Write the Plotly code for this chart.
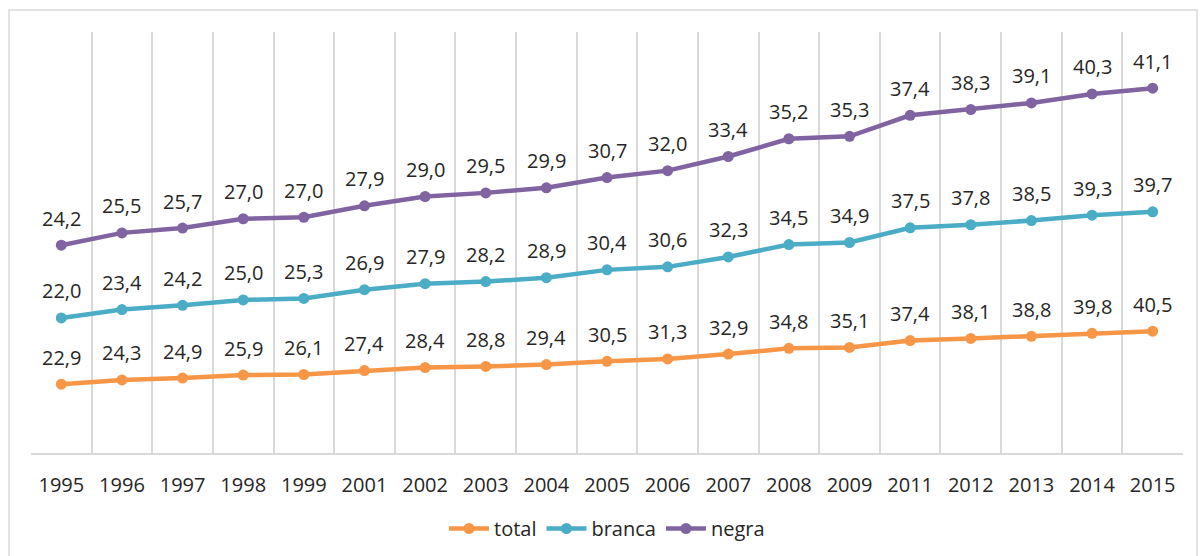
import plotly.graph_objects as go

years = ["1995", "1996", "1997", "1998", "1999", "2001", "2002", "2003", "2004", "2005",
         "2006", "2007", "2008", "2009", "2011", "2012", "2013", "2014", "2015"]
total = [22.9, 24.3, 24.9, 25.9, 26.1, 27.4, 28.4, 28.8, 29.4, 30.5,
         31.3, 32.9, 34.8, 35.1, 37.4, 38.1, 38.8, 39.8, 40.5]
branca = [22.0, 23.4, 24.2, 25.0, 25.3, 26.9, 27.9, 28.2, 28.9, 30.4,
          30.6, 32.3, 34.5, 34.9, 37.5, 37.8, 38.5, 39.3, 39.7]
negra = [24.2, 25.5, 25.7, 27.0, 27.0, 27.9, 29.0, 29.5, 29.9, 30.7,
         32.0, 33.4, 35.2, 35.3, 37.4, 38.3, 39.1, 40.3, 41.1]

series = [("total", total, "#F79646"), ("branca", branca, "#4BACC6"), ("negra", negra, "#8064A2")]

FONT = "Open Sans"
TXT = "#262626"
FS = 20
fig = go.Figure()
base = [0.0] * len(years)
annotations = []
for name, vals, col in series:
    fig.add_trace(go.Scatter(
        x=years, y=vals, name=name, stackgroup="s", fill="none",
        mode="lines+markers",
        line=dict(color=col, width=4.5),
        marker=dict(color=col, size=11),
        hoverinfo="skip",
    ))
    base = [b + v for b, v in zip(base, vals)]
    for i, (v, top) in enumerate(zip(vals, base)):
        annotations.append(dict(
            x=i, y=top, xref="x", yref="y", text=f"{v:.1f}".replace(".", ","),
            showarrow=False, yanchor="middle", yshift=27,
            font=dict(family=FONT, size=FS, color=TXT),
        ))

W, H = 1203, 556
L, R, T, B = 31, 20, 32, 103
pw, ph = W - L - R, H - T - B
fig.add_shape(type="rect", xref="paper", yref="paper",
              x0=(9 - L) / pw, x1=(1197 - L) / pw,
              y0=1 - (570 - T) / ph, y1=1 - (10 - T) / ph,
              line=dict(color="#d9d9d9", width=1.5), fillcolor="rgba(0,0,0,0)", layer="below")

fig.update_layout(
    width=W, height=H, margin=dict(l=L, r=R, t=T, b=B, autoexpand=False),
    plot_bgcolor="white", paper_bgcolor="white",
    font=dict(family=FONT, size=FS, color=TXT),
    showlegend=True,
    annotations=annotations,
    legend=dict(orientation="h", x=0.5, xanchor="center", y=-0.133, yanchor="top",
                font=dict(family=FONT, size=FS, color=TXT), itemwidth=40),
    xaxis=dict(type="category", range=[-0.5, 18.5], tickson="boundaries",
               showgrid=True, gridcolor="#d9d9d9", gridwidth=1.5,
               showline=True, linecolor="#d9d9d9", linewidth=1.5,
               ticks="", ticklabelstandoff=13,
               tickfont=dict(family=FONT, size=FS, color=TXT)),
    yaxis=dict(range=[0, 140], showgrid=False, showticklabels=False, zeroline=False,
               showline=False),
)
fig.write_html("out.html", config={"displayModeBar": False},
               post_script="document.body.style.margin='0';")
